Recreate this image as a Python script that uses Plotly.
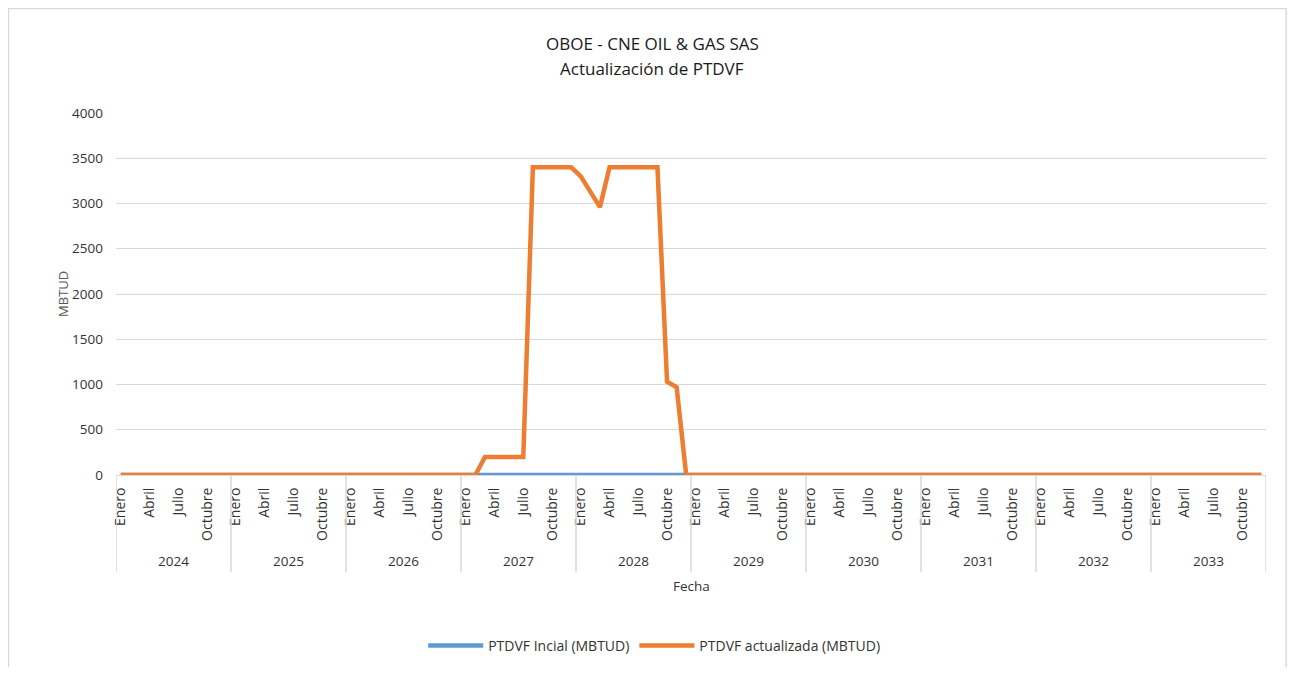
import plotly.graph_objects as go

years = [2024, 2025, 2026, 2027, 2028, 2029, 2030, 2031, 2032, 2033]
months = ["Enero", "Febrero", "Marzo", "Abril", "Mayo", "Junio",
          "Julio", "Agosto", "Septiembre", "Octubre", "Noviembre", "Diciembre"]
shown_months = ["Enero", "Abril", "Julio", "Octubre"]

# PTDVF inicial, una fila por año
ptdvf_inicial = [
    0, 0, 0, 0, 0, 0, 0, 0, 0, 0, 0, 0,
    0, 0, 0, 0, 0, 0, 0, 0, 0, 0, 0, 0,
    0, 0, 0, 0, 0, 0, 0, 0, 0, 0, 0, 0,
    0, 0, 0, 0, 0, 0, 0, 0, 0, 0, 0, 0,
    0, 0, 0, 0, 0, 0, 0, 0, 0, 0, 0, 0,
    0, 0, 0, 0, 0, 0, 0, 0, 0, 0, 0, 0,
    0, 0, 0, 0, 0, 0, 0, 0, 0, 0, 0, 0,
    0, 0, 0, 0, 0, 0, 0, 0, 0, 0, 0, 0,
    0, 0, 0, 0, 0, 0, 0, 0, 0, 0, 0, 0,
    0, 0, 0, 0, 0, 0, 0, 0, 0, 0, 0, 0,
]

# PTDVF actualizada, una fila por año
ptdvf_actualizada = [
    0, 0, 0, 0, 0, 0, 0, 0, 0, 0, 0, 0,
    0, 0, 0, 0, 0, 0, 0, 0, 0, 0, 0, 0,
    0, 0, 0, 0, 0, 0, 0, 0, 0, 0, 0, 0,
    0, 0, 200, 200, 200, 200, 200, 3400, 3400, 3400, 3400, 3400,
    3300, 3130, 2960, 3400, 3400, 3400, 3400, 3400, 3400, 1030, 970, 0,
    0, 0, 0, 0, 0, 0, 0, 0, 0, 0, 0, 0,
    0, 0, 0, 0, 0, 0, 0, 0, 0, 0, 0, 0,
    0, 0, 0, 0, 0, 0, 0, 0, 0, 0, 0, 0,
    0, 0, 0, 0, 0, 0, 0, 0, 0, 0, 0, 0,
    0, 0, 0, 0, 0, 0, 0, 0, 0, 0, 0, 0,
]

FONT = "Open Sans"
TXT = "#333333"
GRID = "#d9d9d9"

# posicion de cada mes en el eje
x = list(range(len(years) * len(months)))
tickvals = [i for i in x if months[i % 12] in shown_months]
ticktext = [months[i % 12] for i in tickvals]

fig = go.Figure()
fig.add_trace(go.Scatter(x=x, y=ptdvf_inicial, mode="lines", name="PTDVF Incial (MBTUD)",
                         line=dict(color="#5B9BD5", width=4.5), cliponaxis=False))
fig.add_trace(go.Scatter(x=x, y=ptdvf_actualizada, mode="lines", name="PTDVF actualizada (MBTUD)",
                         line=dict(color="#ED7D31", width=4.5), cliponaxis=False))

shapes = []
for k in range(len(years) + 1):
    shapes.append(dict(type="line", xref="x", yref="paper", x0=k * 12 - 0.5, x1=k * 12 - 0.5,
                       y0=0, y1=-0.268, line=dict(color=GRID, width=1.5)))
# borde del grafico
shapes.append(dict(type="rect", xref="paper", yref="paper", x0=-0.0935, x1=1.0175,
                   y0=-0.58, y1=1.289, line=dict(color=GRID, width=1.5)))

annotations = []
for k, yr in enumerate(years):
    annotations.append(dict(x=k * 12 + 5.5, y=-0.2376, xref="x", yref="paper", text=str(yr),
                            showarrow=False, font=dict(size=13.5, color=TXT), yanchor="middle"))
annotations += [
    dict(x=0.5, y=-0.3066, xref="paper", yref="paper", text="Fecha", showarrow=False,
         font=dict(size=13.5, color=TXT), yanchor="middle"),
    dict(x=-0.0557, y=0.5, xref="paper", yref="paper", text="MBTUD", showarrow=False,
         textangle=-90, font=dict(size=13, color="#595959")),
    dict(x=0.4665, y=1.193, xref="paper", yref="paper", text="OBOE - CNE OIL & GAS SAS",
         showarrow=False, font=dict(size=17, color="#1a1a1a"), yanchor="middle"),
    dict(x=0.4665, y=1.124, xref="paper", yref="paper", text="Actualización de PTDVF",
         showarrow=False, font=dict(size=17, color="#1a1a1a"), yanchor="middle"),
]

fig.update_layout(
    width=1279, height=659,
    margin=dict(l=108, r=21, t=105, b=192, autoexpand=False),
    paper_bgcolor="white", plot_bgcolor="white",
    font=dict(family=FONT, size=13, color=TXT),
    showlegend=True,
    legend=dict(orientation="h", x=0.468, xanchor="center", y=0.032, yanchor="middle",
                yref="container", font=dict(size=14, color=TXT), itemwidth=55),
    xaxis=dict(range=[-0.5, 119.5], tickvals=tickvals, ticktext=ticktext, tickangle=-90,
               showgrid=False, zeroline=False, showline=True, linecolor=GRID, ticks="",
               automargin=False, ticklabelstandoff=6, tickfont=dict(size=14, color=TXT)),
    yaxis=dict(range=[0, 4000], dtick=500, gridcolor=GRID, gridwidth=1.3, zeroline=False,
               showline=False, ticks="", automargin=False, ticklabelstandoff=12,
               tickfont=dict(size=13.5, color=TXT)),
    shapes=shapes,
    annotations=annotations,
)

fig.write_html("out.html")
